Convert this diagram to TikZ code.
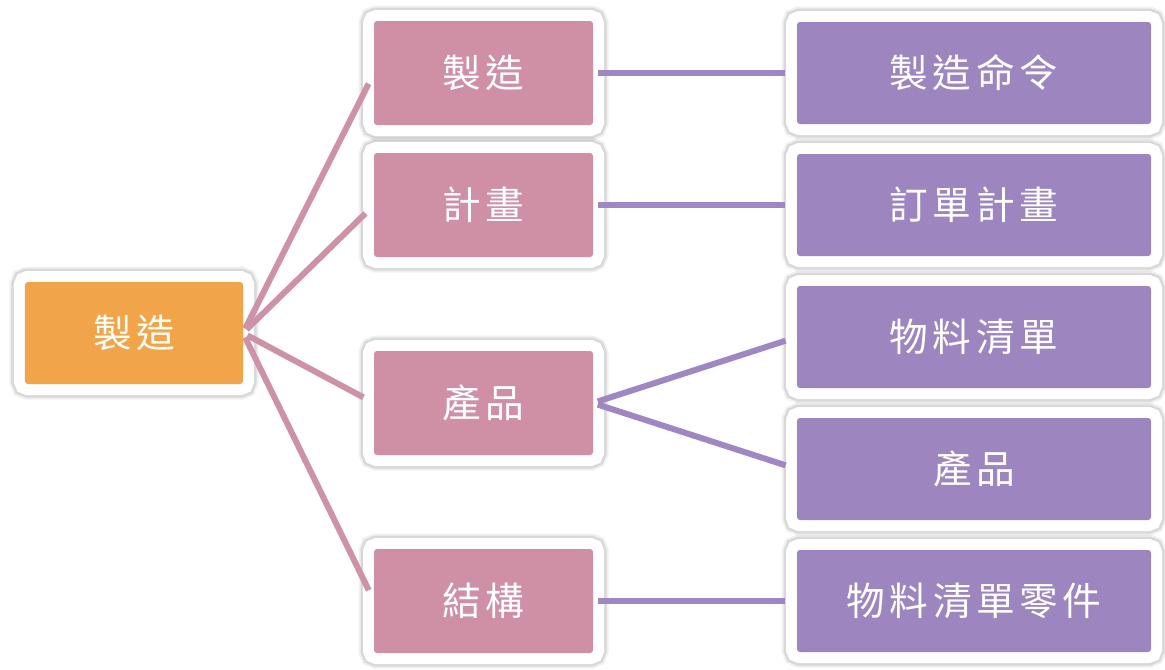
\documentclass[tikz,border=0pt]{standalone}
\usepackage{fontspec}
\newfontfamily\cjk{Noto Sans CJK TC}[LetterSpace=12]
\usepackage{xcolor}
\usetikzlibrary{calc,positioning}
\definecolor{rootorange}{HTML}{F2A548}
\definecolor{midpink}{HTML}{CF90A6}
\definecolor{leafpurple}{HTML}{9D86C0}
\definecolor{pinkline}{HTML}{CE92A8}
\definecolor{purpleline}{HTML}{9E87C3}

\begin{document}
\begin{tikzpicture}[node distance=0.6cm,
    box/.style={rectangle, rounded corners=0.06cm, minimum height=2.04cm, inner sep=0pt, outer sep=0pt,
      text=white, font=\cjk\fontsize{22pt}{26pt}\selectfont,
      preaction={draw=black, opacity=0.06, line width=0.62cm},
      preaction={draw=black, opacity=0.10, line width=0.54cm},
      preaction={draw=white, line width=0.44cm}},
    rootbox/.style={box, fill=rootorange, minimum width=4.36cm},
    midbox/.style={box, fill=midpink, minimum width=4.38cm, minimum height=2.08cm},
    leafbox/.style={box, fill=leafpurple, minimum width=7.08cm},
    pinklink/.style={draw=pinkline, line width=0.12cm, shorten <=0.1cm, shorten >=0.24cm},
    purplelink/.style={draw=purpleline, line width=0.12cm, shorten <=0.1cm, shorten >=0.24cm}]
    \useasboundingbox (0,0) rectangle (23.3,-13.38);

    \node[leafbox] (order) at (19.48,-1.46) {製造命令};
    \node[leafbox, below=of order] (orderplan) {訂單計畫};
    \node[leafbox, below=of orderplan] (bom) {物料清單};
    \node[leafbox, below=of bom] (product) {產品};
    \node[leafbox, below=of product] (bompart) {物料清單零件};

    \coordinate (bommid) at ($(bom.west)!0.5!(product.west)$);
    \node[midbox, left=4.08cm of order] (make) {製造};
    \node[midbox, left=4.08cm of orderplan] (plan) {計畫};
    \node[midbox, left=4.08cm of bommid] (item) {產品};
    \node[midbox, left=4.08cm of bompart] (struct) {結構};

    \node[rootbox] (mfg) at (2.68,-6.66) {製造};

    \draw[pinklink] (mfg.east) -- (make.west);
    \draw[pinklink] (mfg.east) -- (plan.west);
    \draw[pinklink] (mfg.east) -- (item.west);
    \draw[pinklink] (mfg.east) -- (struct.west);
    \draw[purplelink] (make.east) -- (order.west);
    \draw[purplelink] (plan.east) -- (orderplan.west);
    \draw[purplelink] (item.east) -- (bom.west);
    \draw[purplelink] (item.east) -- (product.west);
    \draw[purplelink] (struct.east) -- (bompart.west);
\end{tikzpicture}
\end{document}
